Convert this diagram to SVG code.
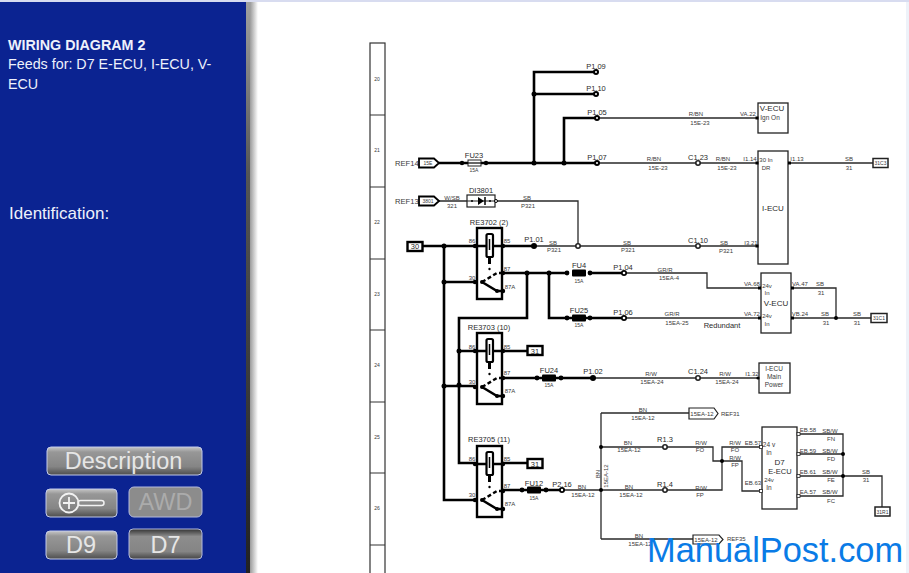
<svg xmlns="http://www.w3.org/2000/svg" width="909" height="573" viewBox="0 0 909 573">
<style>
text{font-family:"Liberation Sans",Arial,sans-serif;fill:#3a3a3a}
.m{text-anchor:middle}
.s5{font-size:5px}.s6{font-size:6px}.s65{font-size:6.5px}.s75{font-size:7.5px;fill:#2a2a2a}.s8{font-size:8px;fill:#2a2a2a}
.thin{fill:none;stroke:#2a2a2a;stroke-width:1.300}
.thick{fill:none;stroke:#000;stroke-width:2.600}
.box{fill:#fff;stroke:#222;stroke-width:1.300}
.hbox{fill:#fff;stroke:#000;stroke-width:2.400}
.side{font-size:14.300px;fill:#eef1fb}
.btn{stroke:#c3cbea;stroke-width:1;fill:url(#bg)}
.bt{font-size:23.500px;fill:#e6e6e6;text-anchor:middle}
</style>
<defs>
<linearGradient id="bg" x1="0" y1="0" x2="0" y2="1"><stop offset="0" stop-color="#c6c6c6"/><stop offset=".18" stop-color="#979797"/><stop offset=".7" stop-color="#858585"/><stop offset="1" stop-color="#4d4d4d"/></linearGradient>
<linearGradient id="bd" x1="0" y1="0" x2="0" y2="1"><stop offset="0" stop-color="#333"/><stop offset=".25" stop-color="#8d8d8d"/><stop offset=".75" stop-color="#858585"/><stop offset="1" stop-color="#444"/></linearGradient>
<linearGradient id="sh" x1="0" y1="0" x2="1" y2="0"><stop offset="0" stop-color="#9a9a9a"/><stop offset="1" stop-color="#fff"/></linearGradient>
<linearGradient id="edge" x1="0" y1="0" x2="0" y2="1"><stop offset="0" stop-color="#a0a0a0"/><stop offset=".3" stop-color="#555"/><stop offset="1" stop-color="#222"/></linearGradient>
<g id="relay">
<rect class="hbox" x="0" y="0" width="25" height="71"/>
<path d="M-2 18H9M16 18H27" class="thick"/>
<rect x="9.500" y="6" width="6.500" height="23" rx="1.500" fill="#fff" stroke="#000" stroke-width="2.200"/>
<path d="M12.500 11V22" stroke="#000" stroke-width="1.500"/>
<path d="M12.500 29V36" stroke="#000" stroke-width="3"/>
<circle cx="12.500" cy="41" r="1.200" fill="#000"/>
<path d="M5 54L20 45H26" fill="none" stroke="#000" stroke-width="2.400" stroke-dasharray="4 2.500"/>
<path d="M5 54L20 63H26" class="thick"/>
<circle cx="-2" cy="18" r="2.200"/><circle cx="26" cy="18" r="2.200"/><circle cx="-2" cy="54" r="2.200"/><circle cx="5" cy="54" r="2"/><circle cx="26" cy="45" r="2.200"/><circle cx="26" cy="63" r="2.200"/><circle cx="20" cy="63" r="2"/>
</g>
<g id="fuse"><rect x="0" y="-3.500" width="14" height="7" rx="1" fill="#000"/></g>
</defs>
<rect width="909" height="573" fill="#fff"/>
<rect x="906" y="0" width="3" height="573" fill="#eef2f9"/>
<rect x="0" y="0" width="909" height="2" fill="#d8dcf0"/>
<rect x="250" y="2" width="8" height="571" fill="url(#sh)"/>
<rect x="245" y="2" width="5" height="571" fill="url(#edge)"/>
<rect x="0" y="2" width="246" height="571" fill="#0b2391"/>
<g id="side-text">
<text class="side" x="8" y="50" font-weight="bold">WIRING DIAGRAM 2</text>
<text class="side" x="8" y="69">Feeds for: D7 E-ECU, I-ECU, V-</text>
<text class="side" x="8" y="89">ECU</text>
<text x="9" y="219" style="font-size:17px;fill:#eef1fb">Identification:</text>
</g>
<g id="btn-description"><rect class="btn" x="47" y="447" width="155" height="28" rx="4"/><text class="bt" x="123.500" y="469">Description</text></g>
<g id="btn-zoom"><rect class="btn" x="46" y="489" width="71" height="28" rx="4"/><circle cx="69" cy="503" r="9.500" fill="none" stroke="#f2f2f2" stroke-width="1.800"/><path d="M63 503H75M69 497V509" stroke="#f2f2f2" stroke-width="1.800"/><rect x="78" y="500.500" width="26" height="5" rx="2.500" fill="none" stroke="#f2f2f2" stroke-width="1.500"/></g>
<g id="btn-awd"><rect x="129" y="487" width="73" height="30" rx="5" fill="#8c8c8c" stroke="#b5bbdc"/><text class="bt" x="165.500" y="510" style="fill:#ababab">AWD</text></g>
<g id="btn-d9"><rect class="btn" x="46" y="531" width="71" height="28" rx="4"/><text class="bt" x="81" y="553">D9</text></g>
<g id="btn-d7"><rect x="129" y="529" width="73" height="30" rx="4" fill="url(#bd)" stroke="#b5bbdc"/><text class="bt" x="165.500" y="553">D7</text></g>

<g id="ruler">
<rect x="370" y="43" width="15" height="531" fill="#fff" stroke="#333" stroke-width="1.200"/>
<path d="M370 115H385M370 187H385M370 259H385M370 330H385M370 402H385M370 473H385M370 545H385" stroke="#333" stroke-width="1.200"/>
<g class="s5">
<text class="m s5" x="377" y="81">20</text><text class="m s5" x="377" y="152">21</text><text class="m s5" x="377" y="224">22</text><text class="m s5" x="377" y="296">23</text><text class="m s5" x="377" y="367">24</text><text class="m s5" x="377" y="439">25</text><text class="m s5" x="377" y="510">26</text>
</g>
</g>

<g id="connectors">
<path class="thick" d="M439 163H597M534 163V72H597M534 94H597M564 163V118H597"/>
<path class="thin" d="M597 118H757M597 163H757M789 163H873"/>
<path class="thin" d="M439 201H468M495 201H578V246"/>
<path class="thick" d="M423 246H477M502 246H534M444 246V500H477M444 282H475M444 386H475"/>
<path class="thin" d="M534 246H757"/>
<path class="thick" d="M503 273H567M590 273H624M527 273V318H459V463H475M549 273V318H624M459 351H475M503 351H527M503 378H593M503 463H527M503 490H562"/>
<path class="thin" d="M624 273H707V288H759M624 318H759M593 378H758M792 288H836V318M792 318H871"/>
<path class="thin" d="M562 490H665M601 413V539M601 413H689M601 447H713V461H742V491H760M601 490H722V447H760M601 539H693M798 434H843V496H798M798 454H843M798 476H882V507"/>
<g fill="#000">
<circle cx="534" cy="94" r="2.500"/><circle cx="534" cy="163" r="2.500"/><circle cx="564" cy="163" r="2.500"/><circle cx="444" cy="246" r="2.500"/><circle cx="444" cy="282" r="2.500"/><circle cx="444" cy="386" r="2.500"/><circle cx="459" cy="351" r="2.500"/><circle cx="459" cy="385" r="2.500"/><circle cx="527" cy="273" r="2.500"/><circle cx="549" cy="273" r="2.500"/><circle cx="836" cy="318" r="2"/><circle cx="601" cy="447" r="2"/><circle cx="601" cy="490" r="2"/><circle cx="722" cy="461" r="2"/><circle cx="843" cy="454" r="2"/><circle cx="843" cy="476" r="2"/>
</g>
</g>

<g id="P109"><circle cx="596" cy="72" r="3"/><circle cx="596" cy="72" r="1" fill="#fff"/><text class="m s75" x="596" y="69">P1.09</text></g>
<g id="P110"><circle cx="596" cy="94" r="3"/><circle cx="596" cy="94" r="1" fill="#fff"/><text class="m s75" x="596" y="91">P1.10</text></g>
<g id="P105"><circle cx="597" cy="118" r="3"/><circle cx="597" cy="118" r="1" fill="#fff"/><text class="m s75" x="597" y="115">P1.05</text></g>
<g id="P107"><circle cx="597" cy="163" r="3"/><circle cx="597" cy="163" r="1" fill="#fff"/><text class="m s75" x="597" y="160">P1.07</text></g>
<g id="P101"><circle cx="534" cy="246" r="3"/><text class="m s75" x="534" y="242">P1.01</text></g>
<g id="P104"><circle cx="624" cy="273" r="3"/><circle cx="624" cy="273" r="1.300" fill="#fff"/><text class="m s75" x="623" y="270">P1.04</text></g>
<g id="P106"><circle cx="624" cy="318" r="3"/><circle cx="624" cy="318" r="1.300" fill="#fff"/><text class="m s75" x="623" y="315">P1.06</text></g>
<g id="P102"><circle cx="593" cy="378" r="3"/><text class="m s75" x="593" y="374">P1.02</text></g>
<g id="P216"><circle cx="562" cy="490" r="3"/><circle cx="562" cy="490" r="1.200" fill="#fff"/><text class="m s75" x="562" y="487">P2.16</text></g>

<g id="open-points" fill="#fff" stroke="#222" stroke-width="1.600">
<circle cx="698" cy="163" r="2.200"/><circle cx="698" cy="246" r="2.200"/><circle cx="698" cy="378" r="2.200"/><circle cx="578" cy="246" r="2.200"/><circle cx="665" cy="447" r="2.200"/><circle cx="665" cy="490" r="2.200"/>
</g>
<g id="C-labels">
<text class="m s75" x="698" y="160">C1.23</text><text class="m s75" x="698" y="243">C1.10</text><text class="m s75" x="698" y="374">C1.24</text><text class="m s75" x="665" y="442">R1.3</text><text class="m s75" x="665" y="487">R1.4</text>
</g>

<g id="REF14"><text x="395" y="166" style="font-size:7.600px">REF14</text><path d="M419 158.500H434L439 163L434 167.500H419Z" fill="#fff" stroke="#000" stroke-width="1.800"/><text class="m s5" x="428" y="165">15E</text></g>
<g id="REF13"><text x="395" y="204" style="font-size:7.600px">REF13</text><path d="M419 196.500H434L439 201L434 205.500H419Z" fill="#fff" stroke="#000" stroke-width="1.800"/><text class="m s5" x="428" y="203">3801</text></g>
<g id="FU23"><circle cx="462" cy="163" r="2.200"/><rect x="468" y="160" width="13" height="6" fill="#fff" stroke="#222"/><path d="M466 163H483" stroke="#000" stroke-width="1.200"/><circle cx="486" cy="163" r="2.200"/><text class="m s75" x="474" y="158">FU23</text><text class="m s5" x="474" y="172">15A</text></g>
<g id="DI3801"><rect x="467" y="195" width="28" height="12" fill="#fff" stroke="#222" stroke-width="1.200"/><path d="M467 201H495" stroke="#222"/><path d="M478 197L484 201L478 205Z"/><path d="M485 197V205" stroke="#000" stroke-width="1.500"/><circle cx="472" cy="201" r="1"/><circle cx="490" cy="201" r="1"/><circle cx="496" cy="201" r="1.500" fill="#fff" stroke="#000"/><text class="m s75" x="481" y="193">DI3801</text></g>
<g id="T30"><rect class="hbox" x="407.500" y="242" width="15" height="9"/><text class="m s75" x="415" y="249">30</text></g>

<g id="RE3702"><use href="#relay" x="477" y="228"/><text class="m s75" x="489" y="225">RE3702 (2)</text><text class="m s6" x="472" y="243">86</text><text class="m s6" x="507" y="243">85</text><text class="m s6" x="507" y="271">87</text><text class="m s6" x="472" y="280">30</text><text class="m s6" x="510" y="289">87A</text></g>
<g id="RE3703"><use href="#relay" x="477" y="333"/><text class="m s75" x="489" y="330">RE3703 (10)</text><text class="m s6" x="472" y="349">86</text><text class="m s6" x="507" y="349">85</text><text class="m s6" x="507" y="375">87</text><text class="m s6" x="472" y="384">30</text><text class="m s6" x="510" y="393">87A</text></g>
<g id="RE3705"><use href="#relay" x="477" y="446"/><text class="m s75" x="489" y="442">RE3705 (11)</text><text class="m s6" x="472" y="461">86</text><text class="m s6" x="507" y="461">85</text><text class="m s6" x="507" y="488">87</text><text class="m s6" x="472" y="497">30</text><text class="m s6" x="510" y="506">87A</text></g>

<g id="FU4"><circle cx="567" cy="273" r="2.400"/><use href="#fuse" x="572" y="273"/><circle cx="590" cy="273" r="2.400"/><text class="m s75" x="579" y="268">FU4</text><text class="m s5" x="579" y="283">15A</text></g>
<g id="FU25"><circle cx="567" cy="318" r="2.400"/><use href="#fuse" x="572" y="318"/><circle cx="590" cy="318" r="2.400"/><text class="m s75" x="579" y="313">FU25</text><text class="m s5" x="579" y="327">15A</text></g>
<g id="FU24"><circle cx="537" cy="378" r="2.400"/><use href="#fuse" x="542" y="378"/><circle cx="561" cy="378" r="2.400"/><text class="m s75" x="549" y="373">FU24</text><text class="m s5" x="549" y="387">15A</text></g>
<g id="FU12"><circle cx="522" cy="490" r="2.400"/><use href="#fuse" x="527" y="490"/><circle cx="546" cy="490" r="2.400"/><text class="m s75" x="534" y="486">FU12</text><text class="m s5" x="534" y="500">15A</text></g>
<g id="T31a"><rect class="hbox" x="527.500" y="346" width="15" height="9"/><text class="m s75" x="535" y="353.500">31</text></g>
<g id="T31b"><rect class="hbox" x="527.500" y="459" width="15" height="9"/><text class="m s75" x="535" y="466.500">31</text></g>

<g id="VECU-top"><rect class="box" x="758" y="103" width="30" height="30"/><rect x="755.500" y="116.500" width="3" height="3"/><text class="m s8" x="772" y="111">V-ECU</text><text class="m s65" x="770" y="120">Ign On</text><text class="m s6" x="748" y="116">VA.22</text></g>
<g id="IECU"><rect class="box" x="758" y="151" width="30" height="113"/><rect x="755.500" y="161.500" width="3" height="3"/><rect x="755.500" y="244.500" width="3" height="3"/><rect x="788" y="161.500" width="3" height="3"/><text class="m s6" x="766" y="162">30 In</text><text class="m s6" x="766" y="170">DR</text><text class="m s8" x="773" y="211">I-ECU</text><text class="m s6" x="750" y="161">I1.14</text><text class="m s6" x="797" y="161">I1.13</text><text class="m s6" x="751" y="245">I3.21</text></g>
<g id="T31C3"><rect x="873" y="158.500" width="15" height="9" fill="#fff" stroke="#222" stroke-width="1.500"/><text class="m s5" x="880.500" y="165">31C3</text></g>
<g id="VECU"><rect class="box" x="761" y="273" width="30" height="60"/><rect x="758" y="286.500" width="3" height="3"/><rect x="758" y="316.500" width="3" height="3"/><rect x="791" y="286.500" width="3" height="3"/><rect x="791" y="316.500" width="3" height="3"/><text class="m s6" x="767" y="288">24v</text><text class="m s6" x="767" y="295">In</text><text class="m s8" x="776" y="306">V-ECU</text><text class="m s6" x="767" y="318">24v</text><text class="m s6" x="767" y="326">In</text><text class="m s6" x="752" y="286">VA.68</text><text class="m s6" x="752" y="316">VA.72</text><text class="m s6" x="800" y="286">VA.47</text><text class="m s6" x="800" y="316">VB.24</text></g>
<g id="T31C1"><rect x="871" y="313.500" width="16" height="9" fill="#fff" stroke="#222" stroke-width="1.500"/><text class="m s5" x="879" y="320">31C1</text></g>
<g id="IECU-main"><rect class="box" x="759" y="363" width="31" height="30"/><circle cx="758" cy="378" r="1.600"/><text class="m s65" x="774" y="371">I-ECU</text><text class="m s65" x="774" y="379">Main</text><text class="m s65" x="774" y="387">Power</text><text class="m s6" x="752" y="376">I1.32</text></g>
<g id="D7"><rect class="box" x="762" y="427" width="35" height="82"/><rect x="759.500" y="445.500" width="3" height="3" fill="#fff" stroke="#222" stroke-width=".8"/><rect x="759.500" y="489.500" width="3" height="3" fill="#fff" stroke="#222" stroke-width=".8"/><rect x="797" y="432.500" width="3" height="3" fill="#fff" stroke="#222" stroke-width=".8"/><rect x="797" y="452.500" width="3" height="3" fill="#fff" stroke="#222" stroke-width=".8"/><rect x="797" y="474.500" width="3" height="3" fill="#fff" stroke="#222" stroke-width=".8"/><rect x="797" y="494.500" width="3" height="3" fill="#fff" stroke="#222" stroke-width=".8"/><text class="m s65" x="769" y="447">24 v</text><text class="m s65" x="769" y="455">In</text><text class="m s8" x="779.500" y="465">D7</text><text class="m" x="780" y="474" style="font-size:7.500px;fill:#2a2a2a">E-ECU</text><text class="m s6" x="769" y="482">24v</text><text class="m s65" x="769" y="490">In</text></g>
<g id="T31R1"><rect x="875" y="507" width="15" height="9" fill="#fff" stroke="#222" stroke-width="1.500"/><text class="m s5" x="882.500" y="514">31R1</text></g>
<g id="REF31"><path d="M689 408H714L718 413.500L714 419H689Z" fill="#fff" stroke="#222" stroke-width="1.200"/><text class="m s6" x="702" y="415.500">15EA-12</text><text class="s6" x="721" y="416">REF31</text></g>
<g id="REF35"><path d="M693 535H719L723 539.500L719 544H693Z" fill="#fff" stroke="#222" stroke-width="1.200"/><text class="m s6" x="706" y="541.500">15EA-12</text><text class="s6" x="727" y="541">REF35</text></g>

<g id="wire-labels" class="s6">
<text class="m s6" x="696" y="116">R/BN</text><text class="m s6" x="700" y="125">15E-23</text>
<text class="m s6" x="654" y="161">R/BN</text><text class="m s6" x="658" y="170">15E-23</text>
<text class="m s6" x="723" y="161">R/BN</text><text class="m s6" x="727" y="170">15E-23</text>
<text class="m s6" x="849" y="161">SB</text><text class="m s6" x="849" y="170">31</text>
<text class="m s6" x="452" y="200">W/SB</text><text class="m s6" x="452" y="208">321</text>
<text class="m s6" x="527" y="200">SB</text><text class="m s6" x="528" y="208">P321</text>
<text class="m s6" x="553" y="245">SB</text><text class="m s6" x="554" y="252">P321</text>
<text class="m s6" x="627" y="245">SB</text><text class="m s6" x="628" y="252">P321</text>
<text class="m s6" x="724" y="245">SB</text><text class="m s6" x="726" y="253">P321</text>
<text class="m s6" x="665" y="272">GR/R</text><text class="m s6" x="669" y="280">15EA-4</text>
<text class="m s6" x="672" y="316">GR/R</text><text class="m s6" x="677" y="325">15EA-25</text>
<text class="m s75" x="722" y="328">Redundant</text>
<text class="m s6" x="820" y="286">SB</text><text class="m s6" x="821" y="295">31</text>
<text class="m s6" x="825" y="316">SB</text><text class="m s6" x="826" y="325">31</text>
<text class="m s6" x="857" y="316">SB</text><text class="m s6" x="857" y="325">31</text>
<text class="m s6" x="651" y="376">R/W</text><text class="m s6" x="652" y="384">15EA-24</text>
<text class="m s6" x="725" y="376">R/W</text><text class="m s6" x="727" y="384">15EA-24</text>
<text class="m s6" x="643" y="412">BN</text><text class="m s6" x="643" y="420">15EA-12</text>
<text class="m s6" x="628" y="445">BN</text><text class="m s6" x="629" y="452">15EA-12</text>
<text class="m s6" x="582" y="489">BN</text><text class="m s6" x="583" y="497">15EA-12</text>
<text class="m s6" x="629" y="489">BN</text><text class="m s6" x="631" y="497">15EA-12</text>
<text class="m s6" x="639" y="538">BN</text><text class="m s6" x="640" y="546">15EA-12</text>
<text class="m s6" transform="translate(600 474) rotate(-90)">BN</text>
<text class="m s6" transform="translate(608 476) rotate(-90)">15EA-12</text>
<text class="m s6" x="701" y="445">R/W</text><text class="m s6" x="700" y="452">FO</text>
<text class="m s6" x="701" y="490">R/W</text><text class="m s6" x="700" y="497">FP</text>
<text class="m s6" x="735" y="445">R/W</text><text class="m s6" x="735" y="452">FO</text>
<text class="m s6" x="735" y="460">R/W</text><text class="m s6" x="735" y="467">FP</text>
<text class="m s6" x="753" y="445">EB.57</text><text class="m s6" x="753" y="485">EB.63</text>
<text class="m s6" x="808" y="432">EB.58</text><text class="m s6" x="830" y="433">SB/W</text><text class="m s6" x="831" y="441">FN</text>
<text class="m s6" x="808" y="453">EB.59</text><text class="m s6" x="830" y="453">SB/W</text><text class="m s6" x="831" y="461">FD</text>
<text class="m s6" x="808" y="474">EB.61</text><text class="m s6" x="830" y="474">SB/W</text><text class="m s6" x="831" y="482">FE</text>
<text class="m s6" x="808" y="494">EA.57</text><text class="m s6" x="830" y="494">SB/W</text><text class="m s6" x="831" y="503">FC</text>
<text class="m s6" x="866" y="474">SB</text><text class="m s6" x="866" y="482">31</text>
</g>
<text id="watermark" x="647" y="562" style="font-size:34.400px;fill:#0a7be6">ManualPost.com</text>
</svg>
